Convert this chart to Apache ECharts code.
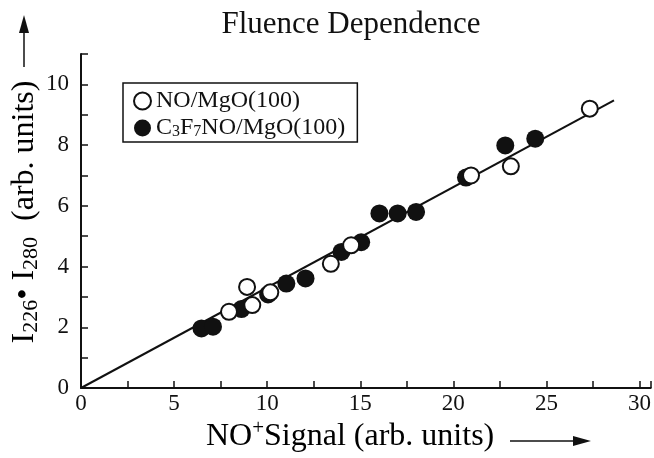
<!DOCTYPE html>
<html>
<head>
<meta charset="utf-8">
<script src="https://cdn.jsdelivr.net/npm/echarts@6/dist/echarts.min.js"></script>
<style>
  html, body { margin: 0; padding: 0; background: #fff; }
  #chart { width: 654px; height: 458px; }
</style>
</head>
<body>
<div id="chart"></div>
<script>
// NO/MgO(100) measurements: [NO+ signal, I226*I280]
var noMgO = [
  [7.95, 2.51], [8.92, 3.33], [9.2, 2.73], [10.17, 3.15], [13.42, 4.09],
  [14.51, 4.70], [20.95, 7.0], [23.09, 7.30], [27.33, 9.2]
];
// C3F7NO/MgO(100) measurements
var c3f7noMgO = [
  [6.47, 1.96], [7.09, 2.02], [8.62, 2.60], [10.05, 3.08], [11.03, 3.44],
  [12.06, 3.61], [13.99, 4.48], [15.05, 4.80], [16.03, 5.75], [17.01, 5.75],
  [18.0, 5.80], [20.68, 6.93], [22.79, 7.99], [24.4, 8.21]
];
// Linear fit through the origin
var fitLine = [[0, 0], [28.63, 9.47]];

var xTickLabels = [0, 5, 10, 15, 20, 25, 30];
var yTickLabels = [0, 2, 4, 6, 8, 10];

var FONT = 'Liberation Serif';
var INK = '#111';
var chart = echarts.init(document.getElementById('chart'), null, { renderer: 'canvas' });

chart.setOption({
  backgroundColor: '#fff',
  animation: false,
  grid: { left: 81, right: 2, top: 54, bottom: 70, containLabel: false },
  xAxis: {
    type: 'value', min: 0, max: 30.6, interval: 2.5,
    axisLine: { lineStyle: { color: INK, width: 2 } },
    axisTick: { inside: true, length: 7, lineStyle: { color: INK, width: 1.5 } },
    splitLine: { show: false },
    axisLabel: {
      color: INK, fontFamily: FONT, fontSize: 23, margin: 4,
      formatter: function (v) { return xTickLabels.indexOf(v) >= 0 ? String(v) : ''; }
    }
  },
  yAxis: {
    type: 'value', min: 0, max: 11, interval: 1,
    axisLine: { lineStyle: { color: INK, width: 2 } },
    axisTick: { inside: true, length: 7, lineStyle: { color: INK, width: 1.5 } },
    splitLine: { show: false },
    axisLabel: {
      color: INK, fontFamily: FONT, fontSize: 23, margin: 12,
      formatter: function (v) { return yTickLabels.indexOf(v) >= 0 ? String(v) : ''; }
    }
  },
  legend: {
    orient: 'vertical', left: 123, top: 83,
    padding: [6, 12, 2, 10], itemGap: 1, itemWidth: 17, itemHeight: 17,
    borderColor: INK, borderWidth: 1.5,
    data: ['NO/MgO(100)', 'C3F7NO/MgO(100)'],
    formatter: function (name) {
      if (name === 'C3F7NO/MgO(100)') return '{n|C}{sub|3}{n|F}{sub|7}{n|NO/MgO(100)}';
      return '{n|' + name + '}';
    },
    textStyle: {
      fontFamily: FONT,
      rich: {
        n: { fontFamily: FONT, fontSize: 24, lineHeight: 24, color: INK },
        sub: { fontFamily: FONT, fontSize: 16, lineHeight: 24, color: INK, verticalAlign: 'bottom', padding: [10, 0, 0, 0] }
      }
    }
  },
  title: {
    text: 'Fluence Dependence', left: 346, top: 4, textAlign: 'center',
    textStyle: { fontFamily: FONT, fontSize: 31, fontWeight: 'normal', color: INK }
  },
  series: [
    {
      name: 'fit', type: 'line', data: fitLine, symbol: 'none', z: 1,
      lineStyle: { color: INK, width: 2 }, silent: true
    },
    {
      name: 'C3F7NO/MgO(100)', type: 'scatter', data: c3f7noMgO, symbol: 'circle', symbolSize: 18, z: 2,
      itemStyle: { color: INK, borderColor: INK, borderWidth: 0, opacity: 1 }
    },
    {
      name: 'NO/MgO(100)', type: 'scatter', data: noMgO, symbol: 'circle', symbolSize: 16, z: 3,
      itemStyle: { color: '#fff', borderColor: INK, borderWidth: 2, opacity: 1 }
    }
  ],
  graphic: [
    // x-axis name with arrow
    {
      type: 'text', left: 206, top: 418, z: 10,
      style: {
        text: '{n|NO}{sup|+}{n|Signal (arb. units)}',
        rich: {
          n: { fontFamily: FONT, fontSize: 32, color: INK },
          sup: { fontFamily: FONT, fontSize: 21, color: INK, padding: [0, 0, 16, 0] }
        }
      }
    },
    { type: 'line', z: 10, shape: { x1: 510, y1: 441, x2: 585, y2: 441 }, style: { stroke: INK, lineWidth: 1.5 } },
    { type: 'polygon', z: 10, shape: { points: [[591, 441], [573, 436], [573, 446]] }, style: { fill: INK } },
    // y-axis name (rotated) with arrow
    {
      type: 'text', x: 25, y: 212, rotation: Math.PI / 2, z: 10,
      style: {
        text: '{n|I}{sub|226}{n|• I}{sub|280}{n|  (arb. units)}',
        align: 'center', verticalAlign: 'middle',
        rich: {
          n: { fontFamily: FONT, fontSize: 32, color: INK },
          sub: { fontFamily: FONT, fontSize: 22, color: INK, padding: [13, 0, 0, 0] }
        }
      }
    },
    { type: 'line', z: 10, shape: { x1: 24, y1: 67, x2: 24, y2: 26 }, style: { stroke: INK, lineWidth: 1.5 } },
    { type: 'polygon', z: 10, shape: { points: [[24, 15], [19, 33], [29, 33]] }, style: { fill: INK } }
  ]
});
</script>
</body>
</html>
